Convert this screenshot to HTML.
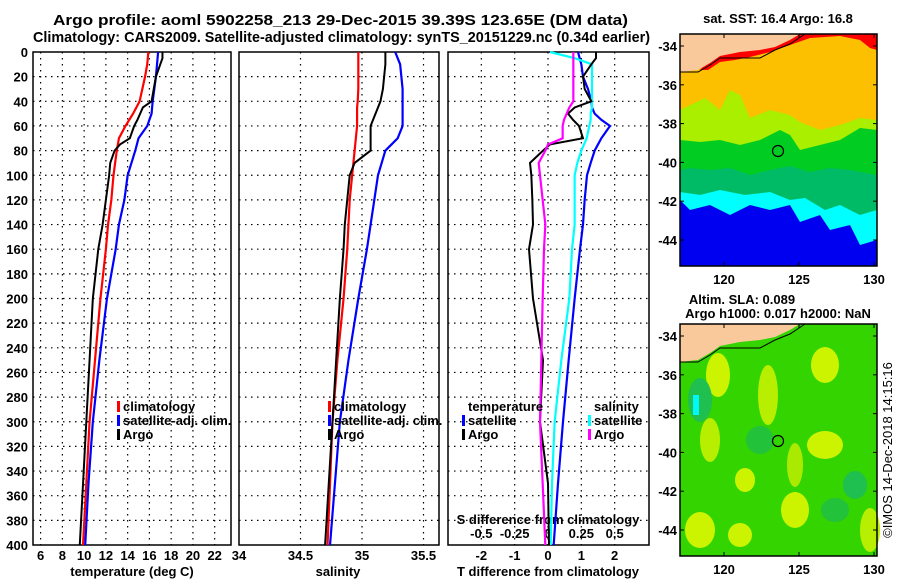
<!DOCTYPE html>
<html><head><meta charset="utf-8"><style>
body{margin:0;background:#fff;}
svg text{font-family:"Liberation Sans",sans-serif;font-weight:bold;fill:#000;}
</style></head><body>
<svg id="fig" width="900" height="580" viewBox="0 0 900 580" xmlns="http://www.w3.org/2000/svg">
<rect width="900" height="580" fill="#fff"/>
<text x="53" y="25" font-size="15" textLength="575" lengthAdjust="spacingAndGlyphs">Argo profile: aoml 5902258_213 29-Dec-2015 39.39S 123.65E (DM data)</text>
<text x="33" y="42" font-size="15" textLength="617" lengthAdjust="spacingAndGlyphs">Climatology: CARS2009. Satellite-adjusted climatology: synTS_20151229.nc (0.34d earlier)</text>
<g id="panels"></g>
<g id="maps"></g>
</svg>
<script>
const depths=[0,5,10,20,30,40,45,50,55,60,70,75,80,90,100,120,140,160,200,250,300,350,400];
const tClim=[15.9,15.85,15.8,15.6,15.35,15.1,14.8,14.5,14.15,13.8,13.2,13.1,13.0,12.85,12.7,12.5,12.2,12.0,11.5,11.0,10.5,10.2,9.9];
const tSat=[16.8,16.75,16.7,16.6,16.45,16.3,16.25,16.2,16.0,15.8,15.0,14.85,14.7,14.35,14.0,13.7,13.2,12.9,12.1,11.4,10.8,10.4,10.1];
const tArgo=[17.2,17.2,17.0,16.6,16.4,16.2,15.4,15.15,14.9,14.6,14.2,13.3,12.8,12.4,12.3,12.0,11.7,11.3,10.8,10.5,10.2,9.9,9.6];
const sClim=[34.97,34.97,34.97,34.97,34.97,34.965,34.96,34.96,34.96,34.96,34.95,34.945,34.94,34.93,34.92,34.9,34.89,34.88,34.85,34.8,34.76,34.74,34.72];
const sSat=[35.27,35.29,35.31,35.32,35.33,35.33,35.33,35.33,35.33,35.33,35.29,35.24,35.19,35.16,35.13,35.1,35.07,35.04,34.97,34.89,34.82,34.78,34.74];
const sArgo=[35.19,35.19,35.19,35.18,35.17,35.15,35.13,35.11,35.09,35.07,35.07,35.07,35.07,34.94,34.9,34.88,34.86,34.85,34.82,34.79,34.76,34.73,34.70];
const dTSat=[0.9,0.95,1.0,1.05,1.2,1.3,1.32,1.4,1.6,1.86,1.6,1.5,1.4,1.28,1.17,1.1,1.05,0.96,0.8,0.62,0.45,0.3,0.17];
const dSSat=[0.015,0.2,0.33,0.33,0.33,0.33,0.33,0.32,0.32,0.31,0.29,0.27,0.25,0.22,0.2,0.2,0.2,0.18,0.16,0.1,0.05,0.03,0.02];
const dTArgo=[1.44,1.44,1.3,1.05,1.1,1.3,0.8,0.6,0.75,0.93,1.05,0.06,-0.15,-0.54,-0.5,-0.47,-0.45,-0.57,-0.45,-0.15,-0.24,0.0,0.03];
const dSArgo=[0.19,0.19,0.19,0.19,0.19,0.19,0.16,0.14,0.12,0.11,0.11,0.0,-0.02,-0.07,-0.06,-0.04,-0.02,-0.03,-0.04,-0.05,-0.06,-0.04,-0.02];
const depthTicks=[0,20,40,60,80,100,120,140,160,180,200,220,240,260,280,300,320,340,360,380,400];
const tTicks=[6,8,10,12,14,16,18,20,22];
const sTicks=[34,34.5,35,35.5];
const dTicks=[-2,-1,0,1,2];
const dSTicks=[-0.5,-0.25,0,0.25,0.5];
const dSTickLabels=['-0.5','-0.25','0','0.25','0.5'];
const NS='http://www.w3.org/2000/svg';
function mk(tag,attrs,parent){const e=document.createElementNS(NS,tag);for(const k in attrs)e.setAttribute(k,attrs[k]);parent.appendChild(e);return e;}
const Y0=52,Y1=545;
const yS=d=>Y0+(d/400)*(Y1-Y0);
const P=[
 {x0:33,x1:231,min:5.3,max:23.5},
 {x0:239,x1:439,min:34,max:35.626},
 {x0:448,x1:649,min:-3,max:3.03}
];
const sx=(p,v)=>p.x0+(v-p.min)/(p.max-p.min)*(p.x1-p.x0);
const panels=document.getElementById('panels');
function poly(p,vals,color,w,name,mult){
 const pts=depths.map((d,i)=>sx(p,vals[i]*(mult||1))+','+yS(d)).join(' ');
 const e=mk('polyline',{points:pts,fill:'none',stroke:color,'stroke-width':w},panels);
 
 
}
function frame(p,ticks,labels,name){
 const g=mk('g',{},panels);
 
 
 depthTicks.forEach(d=>{if(d>0&&d<400)mk('line',{x1:p.x0,x2:p.x1,y1:yS(d),y2:yS(d),stroke:'#000','stroke-width':1.2,'stroke-dasharray':'1.5,4.5'},g);});
 ticks.forEach((t,i)=>{const x=sx(p,t);if(x>p.x0+1&&x<p.x1-1)mk('line',{x1:x,x2:x,y1:Y0,y2:Y1,stroke:'#000','stroke-width':1.2,'stroke-dasharray':'1.5,4.5'},g);
  const tx=mk('text',{x:x,y:Y1+15,'font-size':13,'text-anchor':'middle'},g);tx.textContent=labels?labels[i]:String(t);
  
  });
 mk('rect',{x:p.x0,y:Y0,width:p.x1-p.x0,height:Y1-Y0,fill:'none',stroke:'#000','stroke-width':1.5},g);
}
frame(P[0],tTicks,null,'temperature-panel');
frame(P[1],sTicks,null,'salinity-panel');
frame(P[2],dTicks,null,'difference-panel');
depthTicks.forEach(d=>{const t=mk('text',{x:28,y:yS(d)+5,'font-size':13,'text-anchor':'end'},panels);t.textContent=d;
 
 });
function lab(x,y,s,txt,name,anchor){const t=mk('text',{x:x,y:y,'font-size':s,'text-anchor':anchor||'middle'},panels);t.textContent=txt;
 
 return t;}
lab(132,576,13,'temperature (deg C)','temperature-axis-title');
lab(338,576,13,'salinity','salinity-axis-title');
lab(548,576,13,'T difference from climatology','t-difference-axis-title');
lab(548,524,13,'S difference from climatology','s-difference-axis-title');
dSTicks.forEach((v,i)=>lab(sx(P[2],v*4),538,13,dSTickLabels[i],'s-tick-label'));
poly(P[0],tClim,'#f00',2.2,'temperature-climatology-line');
poly(P[0],tSat,'#00f',2.2,'temperature-satellite-line');
poly(P[0],tArgo,'#000',2,'temperature-argo-line');
poly(P[1],sClim,'#f00',2.2,'salinity-climatology-line');
poly(P[1],sSat,'#00f',2.2,'salinity-satellite-line');
poly(P[1],sArgo,'#000',2,'salinity-argo-line');
poly(P[2],dTSat,'#00f',2.2,'t-diff-satellite-line');
poly(P[2],dSSat,'#0ff',2.2,'s-diff-satellite-line',4);
poly(P[2],dTArgo,'#000',2,'t-diff-argo-line');
poly(P[2],dSArgo,'#f0f',2.2,'s-diff-argo-line',4);
function legend(x,y,items,name){items.forEach((it,i)=>{const yy=y+i*14;
 if(it[1]){const r=mk('rect',{x:x,y:yy-10,width:3,height:11,fill:it[1]},panels);
  
  }
 lab(x+6,yy,13,it[0],name+'-entry','start');});}
legend(117,411,[['climatology','#f00'],['satellite-adj. clim.','#00f'],['Argo','#000']],'legend');
legend(328,411,[['climatology','#f00'],['satellite-adj. clim.','#00f'],['Argo','#000']],'legend');
legend(462,411,[['temperature',null],['satellite','#00f'],['Argo','#000']],'t-legend');
legend(588,411,[['salinity',null],['satellite','#0ff'],['Argo','#f0f']],'s-legend');

// Maps
const mapLons=[120,125,130];
const mapLats=[-34,-36,-38,-40,-42,-44];
const maps=document.getElementById('maps');
const lonX=l=>724+(l-120)*15;
function mapFrame(top,name){
 const g=mk('g',{},maps);
 
 
 return g;
}
function mapAxes(g,top){
 mk('rect',{x:680,y:top,width:197,height:232,fill:'none',stroke:'#000','stroke-width':1.5},g);
 mapLons.forEach(l=>{const x=lonX(l);mk('line',{x1:x,x2:x,y1:top,y2:top+4,stroke:'#000'},g);mk('line',{x1:x,x2:x,y1:top+232,y2:top+228,stroke:'#000'},g);
  const t=mk('text',{x:x,y:top+250,'font-size':13,'text-anchor':'middle'},g);t.textContent=l;
  
  });
 mapLats.forEach(l=>{const y=top+12+(-34-l)*19.4;mk('line',{x1:680,x2:684,y1:y,y2:y,stroke:'#000'},g);mk('line',{x1:877,x2:873,y1:y,y2:y,stroke:'#000'},g);
  const t=mk('text',{x:677,y:y+5,'font-size':13,'text-anchor':'end'},g);t.textContent=l;
  
  });
}
// map 1 SST
let g1=mapFrame(34,'sst-map');
mk('rect',{x:680,y:34,width:197,height:232,fill:'#0000f0'},g1);
mk('polygon',{points:'680,34 877,34 877,240 860,245 850,225 830,230 820,215 800,222 790,205 770,210 750,205 730,215 710,205 690,210 680,200',fill:'#00ffff'},g1);
mk('polygon',{points:'680,34 877,34 877,210 860,215 840,205 825,210 805,198 790,200 770,192 745,195 720,190 700,195 680,192',fill:'#00bb66'},g1);
mk('polygon',{points:'680,34 877,34 877,175 850,170 830,168 810,172 790,166 770,170 750,175 730,168 710,170 690,168 680,170',fill:'#00cc22'},g1);
mk('polygon',{points:'680,34 877,34 877,130 860,128 840,140 820,145 800,150 790,135 780,130 760,140 740,145 720,140 700,142 680,140',fill:'#aaee00'},g1);
mk('polygon',{points:'680,34 877,34 877,120 860,118 840,125 820,130 800,122 790,115 770,110 750,118 740,95 730,90 720,110 705,98 690,105 680,110',fill:'#fcc000'},g1);
mk('polygon',{points:'700,70 715,52 740,47 760,45 780,40 800,34 877,34 877,50 870,48 860,40 840,36 810,38 790,45 770,52 750,57 735,60 720,62 708,70',fill:'#ff0000'},g1);
mk('polygon',{points:'680,34 800,34 790,40 775,47 760,50 740,52 720,56 710,63 698,70 680,72',fill:'#f9c89b'},g1);
mk('polyline',{points:'680,72 698,72 710,65 720,58 740,58 760,58 775,50 790,44 805,34',fill:'none',stroke:'#000','stroke-width':1},g1);
mk('circle',{cx:778,cy:151,r:5.5,fill:'none',stroke:'#000','stroke-width':1.2},g1);
mapAxes(g1,34);
const mt1=mk('text',{x:778,y:23,'font-size':13,'text-anchor':'middle'},g1);mt1.textContent='sat. SST: 16.4 Argo: 16.8';


// map 2 SLA
let g2=mapFrame(324,'sla-map');
mk('rect',{x:680,y:324,width:197,height:232,fill:'#33d400'},g2);
const blobs=[[718,375,12,22,'#ccf400'],[825,365,14,18,'#ccf400'],[768,395,10,30,'#b8ee00'],[710,440,10,22,'#b8ee00'],[825,445,18,14,'#ccf400'],[745,480,10,12,'#ccf400'],[795,510,14,18,'#ccf400'],[700,530,15,18,'#ccf400'],[740,535,12,12,'#ccf400'],[870,530,10,22,'#b8ee00'],[795,465,8,22,'#aaea00'],[700,400,12,22,'#1fbf50'],[855,485,12,14,'#1fbf50'],[760,440,14,14,'#22c23a'],[835,510,14,12,'#22c23a']];
blobs.forEach(b=>mk('ellipse',{cx:b[0],cy:b[1],rx:b[2],ry:b[3],fill:b[4]},g2));
mk('rect',{x:693,y:395,width:6,height:20,fill:'#00f8f8'},g2);
mk('polygon',{points:'680,324 800,324 790,330 775,337 760,340 740,342 720,346 710,353 698,360 680,362',fill:'#f9c89b'},g2);
mk('polyline',{points:'680,362 698,362 710,355 720,348 740,348 760,348 775,340 790,334 805,324',fill:'none',stroke:'#000','stroke-width':1},g2);
mk('circle',{cx:778,cy:441,r:5.5,fill:'none',stroke:'#000','stroke-width':1.2},g2);
mapAxes(g2,324);
const mt2=mk('text',{x:742,y:304,'font-size':13,'text-anchor':'middle'},g2);mt2.textContent='Altim. SLA: 0.089';


const mt3=mk('text',{x:778,y:318,'font-size':13,'text-anchor':'middle'},g2);mt3.textContent='Argo h1000: 0.017 h2000: NaN';


const cr=mk('text',{x:0,y:0,'font-size':13,'text-anchor':'middle',transform:'translate(892,450) rotate(-90)'},maps);cr.textContent='©IMOS 14-Dec-2018 14:15:16';
cr.style.fontWeight='normal';


</script>
</body></html>
